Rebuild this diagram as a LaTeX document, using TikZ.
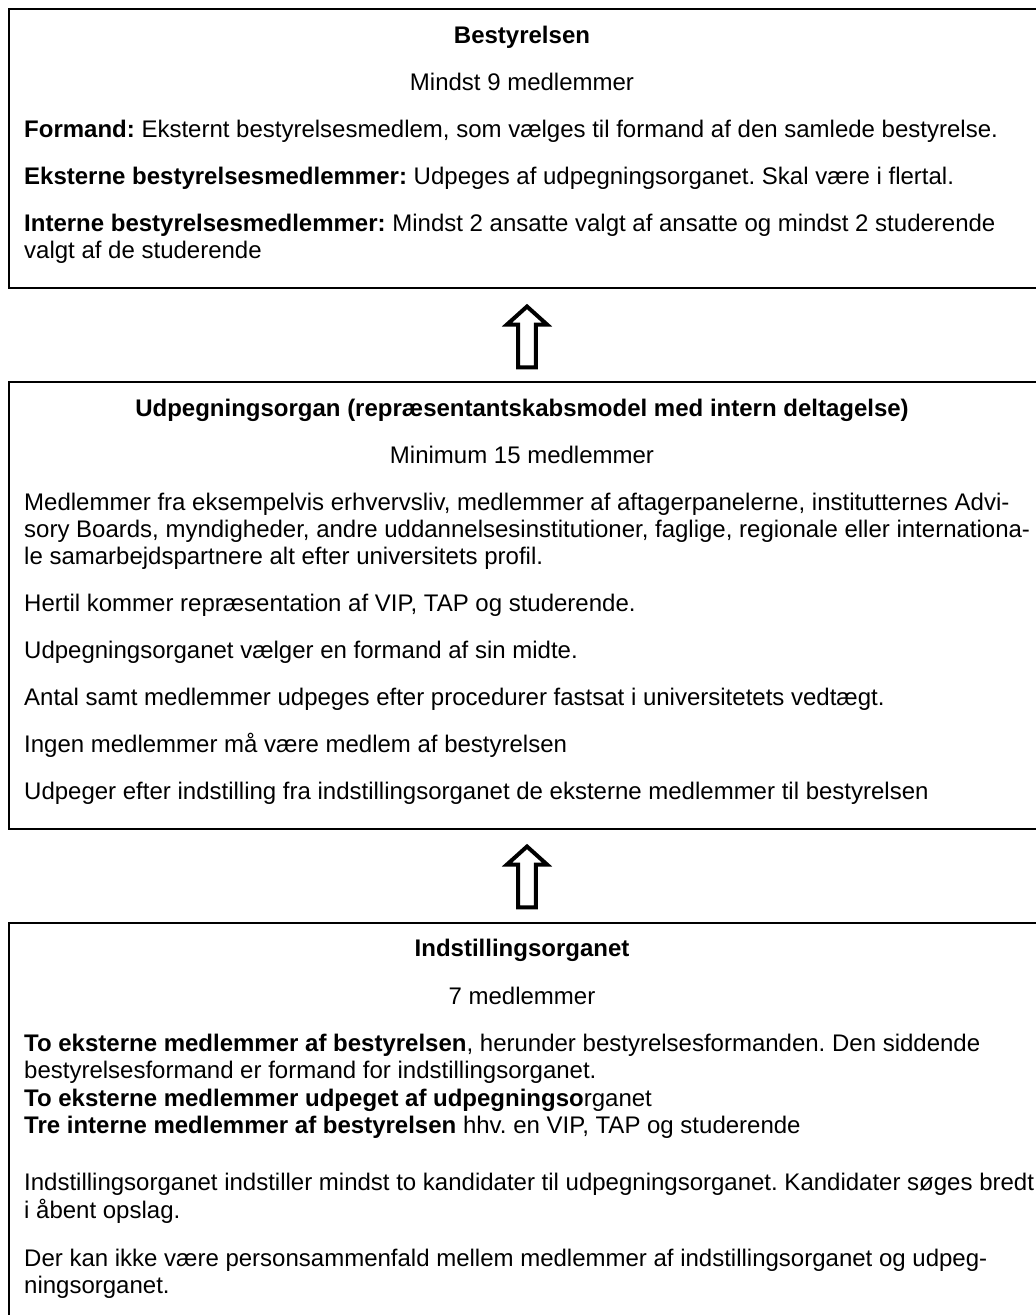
\documentclass[tikz,border=0pt]{standalone}
\usepackage{fontspec}
\setmainfont{Liberation Sans}
\frenchspacing
\newcommand{\fs}{\fontsize{24}{27}\selectfont}
\tikzset{
  body/.style={anchor=base west, inner sep=0pt, font=\fs},
  ctitle/.style={anchor=base, inner sep=0pt, font=\fs\bfseries},
  csub/.style={anchor=base, inner sep=0pt, font=\fs},
  frame/.style={draw=black, line width=2pt},
  blockarrow/.style={draw=black, line width=4pt, fill=white, line join=miter},
}
\begin{document}
\begin{tikzpicture}[x=1pt,y=-1pt]
\useasboundingbox (0,0) rectangle (1036,1315);
\fill[white] (0,0) rectangle (1036,1315);
\clip (0,0) rectangle (1036,1315);
% boxes
\draw[frame] (9,9) rectangle (1045,288);
\draw[frame] (9,382) rectangle (1045,829);
\draw[frame] (9,923) rectangle (1045,1330);
% top box
\node[ctitle] (b1) at (522,43.7) {Bestyrelsen};
\node[csub] (b2) at (522,90.7) {Mindst 9 medlemmer};
\node[body] (b3) at (24,137.7) {\textbf{Formand:} Eksternt bestyrelsesmedlem, som vælges til formand af den samlede bestyrelse.};
\node[body] (b4) at (24,184.7) {\textbf{Eksterne bestyrelsesmedlemmer:} Udpeges af udpegningsorganet. Skal være i flertal.};
\node[body] (b5) at (24,231.7) {\textbf{Interne bestyrelsesmedlemmer:} Mindst 2 ansatte valgt af ansatte og mindst 2 studerende};
\node[body] (b6) at (24,258.7) {valgt af de studerende};
% middle box
\node[ctitle] (u1) at (522,416.7) {Udpegningsorgan (repræsentantskabsmodel med intern deltagelse)};
\node[csub] (u2) at (522,463.7) {Minimum 15 medlemmer};
\node[body] (u3) at (24,510.7) {Medlemmer fra eksempelvis erhvervsliv, medlemmer af aftagerpanelerne, institutternes Advi-};
\node[body] (u4) at (24,537.7) {sory Boards, myndigheder, andre uddannelsesinstitutioner, faglige, regionale eller internationa-};
\node[body] (u5) at (24,564.7) {le samarbejdspartnere alt efter universitets profil.};
\node[body] (u6) at (24,611.7) {Hertil kommer repræsentation af VIP, TAP og studerende.};
\node[body] (u7) at (24,658.7) {Udpegningsorganet vælger en formand af sin midte.};
\node[body] (u8) at (24,705.7) {Antal samt medlemmer udpeges efter procedurer fastsat i universitetets vedtægt.};
\node[body] (u9) at (24,752.7) {Ingen medlemmer må være medlem af bestyrelsen};
\node[body] (u10) at (24,799.7) {Udpeger efter indstilling fra indstillingsorganet de eksterne medlemmer til bestyrelsen};
% bottom box
\node[ctitle] (i1) at (522,956) {Indstillingsorganet};
\node[csub] (i2) at (522,1004) {7 medlemmer};
\node[body] (i3) at (24,1051.7) {\textbf{To eksterne medlemmer af bestyrelsen}, herunder bestyrelsesformanden. Den siddende};
\node[body] (i4) at (24,1078.7) {bestyrelsesformand er formand for indstillingsorganet.};
\node[body] (i5) at (24,1106) {\textbf{To eksterne medlemmer udpeget af udpegningso}rganet};
\node[body] (i6) at (24,1133.5) {\textbf{Tre interne medlemmer af bestyrelsen} hhv. en VIP, TAP og studerende};
\node[body] (i7) at (24,1190) {Indstillingsorganet indstiller mindst to kandidater til udpegningsorganet. Kandidater søges bredt};
\node[body] (i8) at (24,1218) {i åbent opslag.};
\node[body] (i9) at (24,1266) {Der kan ikke være personsammenfald mellem medlemmer af indstillingsorganet og udpeg-};
\node[body] (i10) at (24,1293) {ningsorganet.};
% block arrows
\coordinate (a1) at (527,367.3);
\coordinate (a2) at (527,907.3);
\foreach \c in {a1,a2}{
  \draw[blockarrow] (\c) ++(-8.8,0) -- ++(0,-42.8) -- ++(-11.2,0) -- ++(20,-18) -- ++(20,18) -- ++(-11.2,0) -- ++(0,42.8) -- cycle;
}
\end{tikzpicture}
\end{document}
